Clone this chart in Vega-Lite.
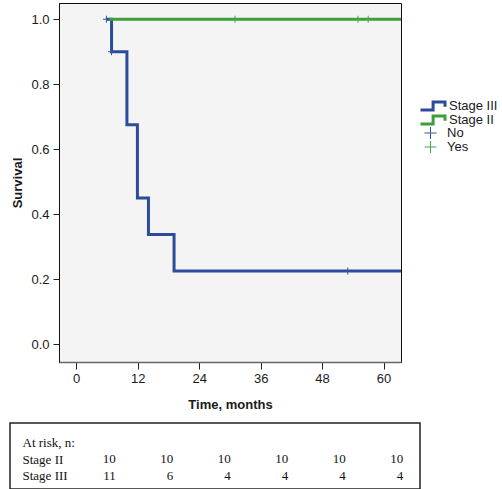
{
  "$schema": "https://vega.github.io/schema/vega-lite/v6.json",
  "padding": {"top": 2, "left": 9, "right": 0, "bottom": 0},
  "background": "white",
  "spacing": 10,
  "config": {
    "font": "Liberation Sans",
    "axis": {"labelFont": "Liberation Sans", "labelFontSize": 13, "labelColor": "#1a1a1a", "titleFont": "Liberation Sans", "titleFontSize": 13, "titleFontWeight": "bold", "titleColor": "#1a1a1a", "tickColor": "#222", "grid": false},
    "legend": {"padding": 0, "labelFont": "Liberation Sans", "labelFontSize": 13, "labelColor": "#1a1a1a"}
  },
  "datasets": {
    "km": [
      {"stage": "Stage III", "time": 5.9, "surv": 1.0},
      {"stage": "Stage III", "time": 6.9, "surv": 0.9},
      {"stage": "Stage III", "time": 9.9, "surv": 0.675},
      {"stage": "Stage III", "time": 11.95, "surv": 0.45},
      {"stage": "Stage III", "time": 14.1, "surv": 0.3375},
      {"stage": "Stage III", "time": 19.1, "surv": 0.225},
      {"stage": "Stage III", "time": 64, "surv": 0.225},
      {"stage": "Stage II", "time": 6.4, "surv": 1.0},
      {"stage": "Stage II", "time": 64, "surv": 1.0}
    ],
    "censor": [
      {"group": "No", "time": 5.9, "surv": 1.0},
      {"group": "No", "time": 6.9, "surv": 0.9},
      {"group": "No", "time": 53.0, "surv": 0.225},
      {"group": "Yes", "time": 31.0, "surv": 1.0},
      {"group": "Yes", "time": 55.0, "surv": 1.0},
      {"group": "Yes", "time": 57.0, "surv": 1.0}
    ],
    "risk": [
      {"row": "Stage II", "time": 0, "n": 10},
      {"row": "Stage II", "time": 12, "n": 10},
      {"row": "Stage II", "time": 24, "n": 10},
      {"row": "Stage II", "time": 36, "n": 10},
      {"row": "Stage II", "time": 48, "n": 10},
      {"row": "Stage II", "time": 60, "n": 10},
      {"row": "Stage III", "time": 0, "n": 11},
      {"row": "Stage III", "time": 12, "n": 6},
      {"row": "Stage III", "time": 24, "n": 4},
      {"row": "Stage III", "time": 36, "n": 4},
      {"row": "Stage III", "time": 48, "n": 4},
      {"row": "Stage III", "time": 60, "n": 4}
    ]
  },
  "vconcat": [
    {
      "spacing": 0,
      "hconcat": [
        {
          "width": 1,
          "height": 1,
          "view": {"stroke": null, "fill": null},
          "data": {"values": []},
          "mark": {"type": "point", "opacity": 0},
          "encoding": {}
        },
        {
          "width": 342,
          "height": 359,
          "view": {"fill": "#f4f4f4", "stroke": "#111", "strokeWidth": 1},
          "layer": [
            {
              "layer": [
                {
                  "data": {"name": "km"},
                  "transform": [{"filter": "datum.stage == 'Stage III'"}],
                  "mark": {"type": "line", "interpolate": "step-after", "strokeWidth": 3, "clip": true},
                  "encoding": {
                    "x": {"field": "time", "type": "quantitative", "scale": {"domain": [-3.36, 63.4], "nice": false, "zero": false},
                          "axis": {"values": [0, 12, 24, 36, 48, 60], "title": "Time, months", "tickSize": 7, "labelPadding": 3, "titlePadding": 13, "domainColor": "#666", "domainWidth": 1.5}},
                    "y": {"field": "surv", "type": "quantitative", "scale": {"domain": [-0.055, 1.05], "nice": false, "zero": false},
                          "axis": {"values": [0, 0.2, 0.4, 0.6, 0.8, 1.0], "format": ".1f", "title": "Survival", "tickSize": 6, "labelPadding": 4, "titlePadding": 6, "domainColor": "#111", "domainWidth": 1}},
                    "color": {"field": "stage", "type": "nominal", "scale": {"domain": ["Stage III", "Stage II"], "range": ["#2d4b9b", "#3c9f3c"]},
                              "legend": {"orient": "none", "legendX": 360, "legendY": 96, "title": null, "symbolType": "M-1,0.57H0.8V-0.57H2.5V0.1", "symbolSize": 196, "symbolStrokeWidth": 3, "rowPadding": 0, "clipHeight": 14, "labelOffset": 13,
                                         "encode": {"symbols": {"update": {"fill": {"value": "transparent"}}}}}}
                  }
                },
                {
                  "data": {"name": "km"},
                  "transform": [{"filter": "datum.stage == 'Stage II'"}],
                  "mark": {"type": "line", "interpolate": "step-after", "strokeWidth": 3, "clip": true},
                  "encoding": {
                    "x": {"field": "time", "type": "quantitative"},
                    "y": {"field": "surv", "type": "quantitative"},
                    "color": {"field": "stage", "type": "nominal"}
                  }
                }
              ]
            },
            {
              "data": {"name": "censor"},
              "mark": {"type": "point", "shape": "M-1,0H1M0,-1V1", "filled": false, "strokeWidth": 1, "size": 49, "opacity": 1, "clip": true},
              "encoding": {
                "x": {"field": "time", "type": "quantitative"},
                "y": {"field": "surv", "type": "quantitative"},
                "color": {"field": "group", "type": "nominal", "scale": {"domain": ["No", "Yes"], "range": ["#3452a3", "#44a844"]},
                          "legend": {"orient": "none", "legendX": 360, "legendY": 123, "title": null, "symbolType": "M-0.29,0H1.43M0.57,-0.86V0.86", "symbolSize": 196, "symbolStrokeWidth": 1, "rowPadding": 0, "clipHeight": 14, "labelOffset": 13}}
              }
            }
          ],
          "resolve": {"scale": {"color": "independent"}, "legend": {"color": "independent"}}
        }
      ]
    },
    {
      "width": 410,
      "height": 66,
      "data": {"name": "risk"},
      "view": {"fill": "white", "stroke": "#222", "strokeWidth": 1.5},
      "mark": {"type": "text", "align": "right", "baseline": "middle", "font": "Liberation Serif", "fontSize": 13, "fill": "#111"},
      "encoding": {
        "x": {"field": "time", "type": "quantitative", "scale": {"domain": [-22.1, 63.5], "nice": false, "zero": false}, "axis": null},
        "y": {"field": "row", "type": "ordinal", "scale": {"type": "point", "domain": ["At risk, n:", "Stage II", "Stage III"], "padding": 0.98, "align": 0.6},
              "axis": {"title": null, "domain": false, "ticks": false, "tickSize": 0, "labelAlign": "left", "labelPadding": -12, "labelFont": "Liberation Serif", "labelFontSize": 13, "labelColor": "#111"}},
        "text": {"field": "n", "type": "quantitative"}
      }
    }
  ]
}
